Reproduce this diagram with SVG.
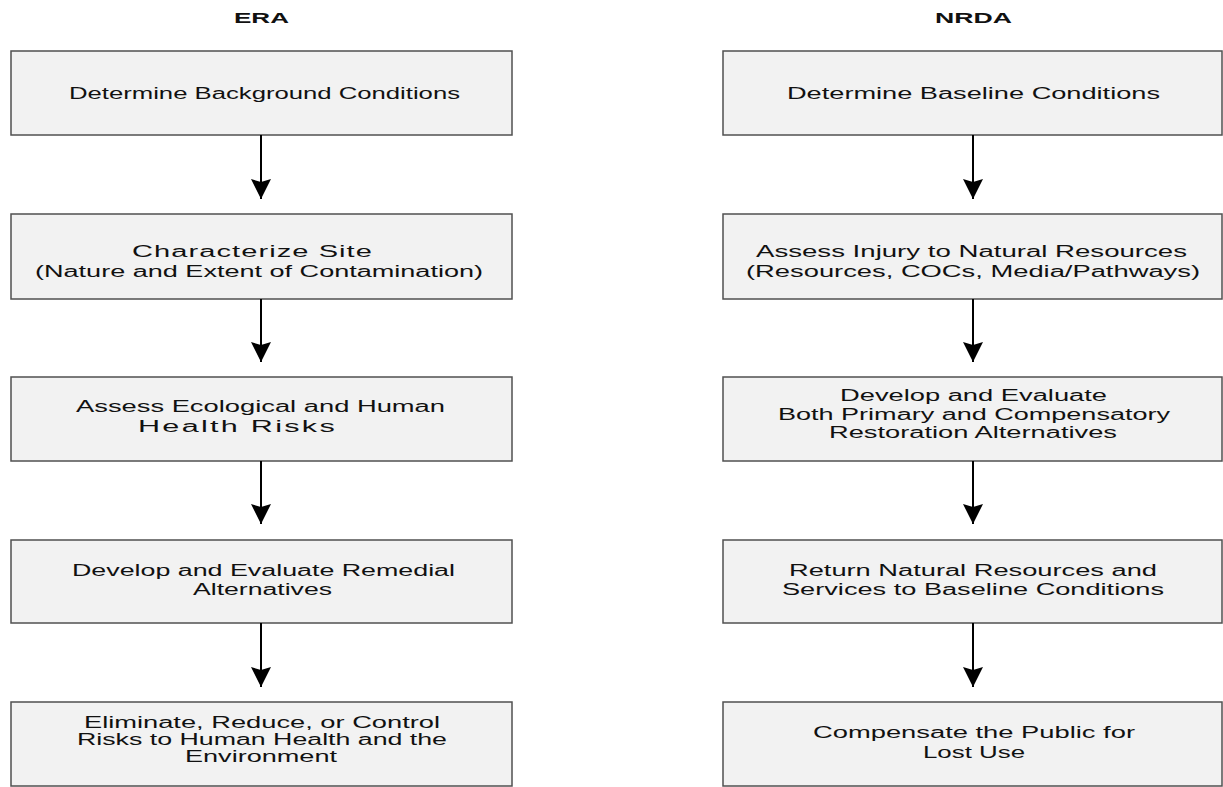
<svg xmlns="http://www.w3.org/2000/svg" width="1223" height="787" viewBox="0 0 1223 787">
<style>
.box{fill:#f2f2f2;stroke:#505050;stroke-width:1.5}
.t{font-family:"Liberation Sans",Arial,sans-serif;font-size:16px;fill:#111}
.h{font-family:"Liberation Sans",Arial,sans-serif;font-size:14px;font-weight:bold;fill:#111}
.c{stroke:#000;stroke-width:2;fill:none}
</style>
<defs>
<marker id="ah" markerUnits="userSpaceOnUse" markerWidth="24" markerHeight="24" viewBox="-22 -12 24 24" refX="0" refY="0" orient="auto">
<polygon points="0,0 -20,-10 -17,0 -20,10" fill="#000"/>
</marker>
</defs>
<rect width="1223" height="787" fill="#fff"/>
<g id="headers">
<text class="h" x="234" y="23" textLength="55" lengthAdjust="spacingAndGlyphs">ERA</text>
<text class="h" x="935" y="23" textLength="77" lengthAdjust="spacingAndGlyphs">NRDA</text>
</g>
<g id="era1"><rect class="box" x="11" y="51" width="501" height="84"/>
<text class="t" x="69" y="99" textLength="391" lengthAdjust="spacingAndGlyphs">Determine Background Conditions</text></g>
<g id="era2"><rect class="box" x="11" y="214" width="501" height="85"/>
<text class="t" x="132" y="257" textLength="241" lengthAdjust="spacingAndGlyphs" letter-spacing="0.6">Characterize Site</text>
<text class="t" x="35" y="277" textLength="448" lengthAdjust="spacingAndGlyphs">(Nature and Extent of Contamination)</text></g>
<g id="era3"><rect class="box" x="11" y="377" width="501" height="84"/>
<text class="t" x="76" y="412" textLength="369" lengthAdjust="spacingAndGlyphs">Assess Ecological and Human</text>
<text class="t" x="138" y="432" textLength="199" lengthAdjust="spacingAndGlyphs" letter-spacing="1.2">Health Risks</text></g>
<g id="era4"><rect class="box" x="11" y="540" width="501" height="83"/>
<text class="t" x="72" y="576" textLength="383" lengthAdjust="spacingAndGlyphs">Develop and Evaluate Remedial</text>
<text class="t" x="193" y="595" textLength="139" lengthAdjust="spacingAndGlyphs">Alternatives</text></g>
<g id="era5"><rect class="box" x="11" y="702" width="501" height="84"/>
<text class="t" x="84" y="728" textLength="356" lengthAdjust="spacingAndGlyphs">Eliminate, Reduce, or Control</text>
<text class="t" x="77" y="745" textLength="370" lengthAdjust="spacingAndGlyphs">Risks to Human Health and the</text>
<text class="t" x="185" y="762" textLength="152" lengthAdjust="spacingAndGlyphs">Environment</text></g>
<g id="nrda1"><rect class="box" x="723" y="51" width="499" height="84"/>
<text class="t" x="787" y="99" textLength="373" lengthAdjust="spacingAndGlyphs">Determine Baseline Conditions</text></g>
<g id="nrda2"><rect class="box" x="723" y="214" width="499" height="85"/>
<text class="t" x="756" y="257" textLength="431" lengthAdjust="spacingAndGlyphs">Assess Injury to Natural Resources</text>
<text class="t" x="746" y="277" textLength="454" lengthAdjust="spacingAndGlyphs">(Resources, COCs, Media/Pathways)</text></g>
<g id="nrda3"><rect class="box" x="723" y="377" width="499" height="84"/>
<text class="t" x="840" y="401" textLength="267" lengthAdjust="spacingAndGlyphs">Develop and Evaluate</text>
<text class="t" x="778" y="420" textLength="392" lengthAdjust="spacingAndGlyphs">Both Primary and Compensatory</text>
<text class="t" x="829" y="438" textLength="288" lengthAdjust="spacingAndGlyphs">Restoration Alternatives</text></g>
<g id="nrda4"><rect class="box" x="723" y="540" width="499" height="83"/>
<text class="t" x="789" y="576" textLength="368" lengthAdjust="spacingAndGlyphs">Return Natural Resources and</text>
<text class="t" x="782" y="595" textLength="382" lengthAdjust="spacingAndGlyphs">Services to Baseline Conditions</text></g>
<g id="nrda5"><rect class="box" x="723" y="702" width="499" height="84"/>
<text class="t" x="813" y="738" textLength="322" lengthAdjust="spacingAndGlyphs">Compensate the Public for</text>
<text class="t" x="923" y="758" textLength="102" lengthAdjust="spacingAndGlyphs">Lost Use</text></g>
<g id="connectors">
<line class="c" x1="261" y1="135" x2="261" y2="199" marker-end="url(#ah)"/>
<line class="c" x1="261" y1="299" x2="261" y2="362" marker-end="url(#ah)"/>
<line class="c" x1="261" y1="461" x2="261" y2="524" marker-end="url(#ah)"/>
<line class="c" x1="261" y1="623" x2="261" y2="687" marker-end="url(#ah)"/>
<line class="c" x1="973" y1="135" x2="973" y2="199" marker-end="url(#ah)"/>
<line class="c" x1="973" y1="299" x2="973" y2="362" marker-end="url(#ah)"/>
<line class="c" x1="973" y1="461" x2="973" y2="524" marker-end="url(#ah)"/>
<line class="c" x1="973" y1="623" x2="973" y2="687" marker-end="url(#ah)"/>
</g>
</svg>
